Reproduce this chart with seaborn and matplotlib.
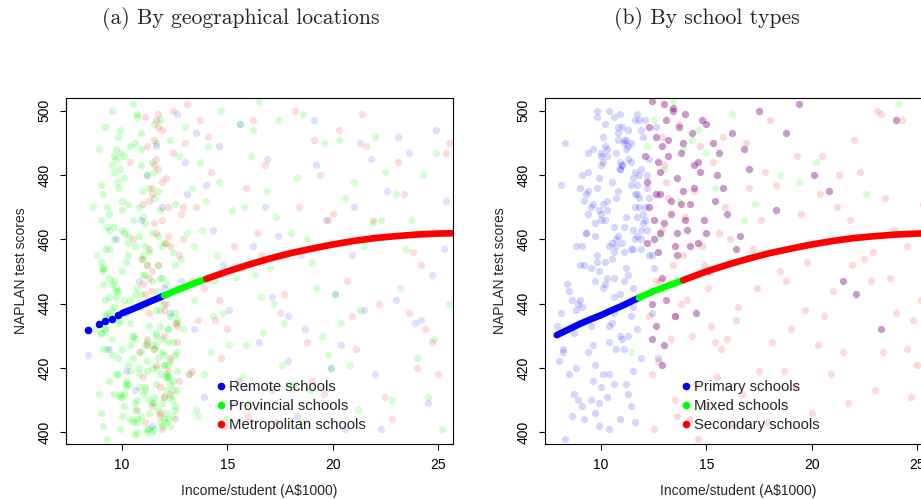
import matplotlib
matplotlib.use("Agg")
import matplotlib.pyplot as plt
import seaborn as sns
from matplotlib.lines import Line2D

# ---------------- data ----------------
TITLES = ["(a) By geographical locations", "(b) By school types"]
XLABEL = "Income/student (A$1000)"
YLABEL = "NAPLAN test scores"
XTICKS = [10, 15, 20, 25]
YTICKS = [400, 420, 440, 460, 480, 500]
LEGEND_A = ["Remote schools", "Provincial schools", "Metropolitan schools"]
LEGEND_B = ["Primary schools", "Mixed schools", "Secondary schools"]

# panel (a) scatter: provincial (green), dense cluster
a_green_x = [
    9.1, 10.3, 11.6, 9.8, 12.2, 10.7, 11.1, 9.4, 12.5, 10.0,
    11.4, 9.6, 10.9, 12.0, 9.2, 11.8, 10.4, 11.2, 9.9, 12.3,
    10.6, 11.5, 9.3, 10.1, 11.9, 12.4, 9.7, 10.8, 11.3, 9.0,
    12.1, 10.2, 11.7, 9.5, 10.5, 11.0, 12.6, 9.8, 11.4, 10.9,
    9.4, 11.2, 10.0, 12.2, 9.1, 10.6, 11.6, 9.9, 12.0, 10.3,
    11.1, 9.6, 10.7, 11.8, 12.4, 9.2, 10.4, 11.5, 9.7, 12.5,
    10.8, 11.3, 9.3, 12.1, 10.1, 11.9, 9.5, 10.5, 11.0, 12.3,
    9.0, 10.9, 11.7, 9.8, 12.6, 10.2, 11.4, 9.4, 10.6, 11.2,
    12.0, 9.6, 11.6, 10.0, 9.1, 10.7, 12.2, 11.1, 9.9, 10.3,
    11.8, 9.2, 10.4, 12.4, 11.5, 9.7, 10.8, 11.3, 12.5, 9.3,
    10.1, 11.9, 9.5, 10.5, 12.1, 11.0, 9.8, 10.9, 11.7, 12.3,
    9.4, 10.2, 11.2, 12.6, 9.0, 11.4, 10.6, 9.6, 12.0, 11.6,
    10.0, 11.1, 9.9, 10.7, 12.2, 9.1, 11.8, 10.3, 11.5, 9.7,
    12.4, 10.4, 9.2, 11.3, 10.8, 12.5, 9.3, 11.9, 10.1, 11.0,
    9.5, 12.1, 10.5, 9.8, 11.7, 10.9, 12.3, 9.4, 11.2, 10.2,
    11.4, 9.6, 12.6, 10.6, 9.0, 11.6, 10.0, 12.0, 9.9, 11.1,
    10.7, 11.8, 9.1, 10.3, 12.2, 11.5, 9.7, 10.4, 12.4, 9.2,
    11.3, 10.8, 12.5, 9.3, 11.9, 10.1, 9.5, 11.0, 12.1, 10.5,
    9.8, 11.7, 10.9, 12.3, 9.4, 10.2, 11.2, 9.6, 12.6, 11.4,
    10.6, 9.0, 11.6, 10.0, 12.0, 9.9, 11.1, 10.7, 9.1, 11.8,
    12.2, 10.3, 9.7, 11.5, 10.4, 12.4, 9.2, 11.3, 10.8, 12.5,
    9.3, 11.9, 10.1, 9.5, 11.0, 12.1, 10.5, 9.8, 11.7, 10.9,
    11.2, 12.3, 9.4, 10.2, 11.4, 9.6, 12.6, 10.6, 11.6, 9.0,
    10.0, 11.1, 12.0, 9.9, 10.7, 11.8, 9.1, 12.2, 10.3, 11.5,
]
a_green_y = [
    402, 455, 431, 478, 417, 499, 440, 463, 408, 426,
    447, 412, 488, 421, 436, 469, 404, 452, 494, 415,
    429, 473, 398, 441, 458, 410, 485, 420, 433, 466,
    406, 437, 461, 424, 502, 449, 413, 476, 400, 443,
    468, 419, 405, 432, 451, 490, 427, 411, 459, 438,
    414, 481, 445, 403, 428, 457, 434, 496, 418, 471,
    439, 401, 464, 417, 486, 409, 446, 430, 475, 422,
    453, 425, 407, 492, 435, 416, 462, 442, 399, 480,
    421, 460, 438, 411, 474, 403, 428, 449, 487, 415,
    497, 432, 419, 456, 401, 444, 470, 410, 437, 426,
    408, 448, 483, 423, 413, 467, 434, 405, 452, 491,
    436, 414, 400, 445, 477, 420, 458, 439, 404, 430,
    463, 427, 412, 498, 432, 450, 418, 471, 409, 442,
    416, 489, 441, 406, 461, 424, 435, 402, 479, 454,
    429, 403, 466, 418, 444, 493, 411, 457, 422, 437,
    484, 447, 425, 409, 431, 415, 472, 440, 401, 465,
    410, 433, 451, 421, 404, 481, 445, 427, 413, 495,
    456, 418, 407, 437, 425, 462, 500, 412, 446, 430,
    423, 475, 439, 402, 416, 453, 428, 486, 434, 409,
    443, 406, 420, 469, 411, 435, 458, 400, 426, 448,
    417, 461, 488, 426, 441, 405, 432, 476, 414, 452,
    470, 429, 412, 438, 455, 418, 403, 444, 423, 483,
    401, 436, 448, 415, 427, 464, 419, 407, 490, 431,
    450, 413, 424, 482, 404, 438, 446, 421, 459, 411,
]
# panel (a) scatter: provincial (green), sparse part
a_green2_x = [
    8.6, 8.8, 8.9, 8.7, 8.9, 13.0, 13.4, 13.8, 14.2, 14.6,
    15.0, 15.5, 16.1, 16.7, 17.3, 17.9, 18.6, 19.2, 19.9, 20.6,
    21.3, 22.0, 22.8, 23.5, 24.3, 25.2, 13.2, 13.7, 14.4, 15.2,
    15.9, 16.5, 17.2, 18.0, 18.9, 19.6, 20.4, 21.5, 23.0, 24.8,
    12.8, 13.5, 14.0, 14.8, 15.6, 16.3, 17.6, 18.3, 20.1, 21.9,
    12.9, 13.3, 13.6, 14.1, 14.5, 15.1, 15.8, 16.6, 17.4, 18.1,
    18.8, 19.5, 20.3, 21.2, 22.3, 23.2, 24.0, 24.9, 25.5, 13.1,
    13.9, 14.7, 15.4, 16.0, 16.9, 17.7, 19.0, 20.8, 22.5, 24.5,
    12.7, 13.4, 14.3, 15.7, 17.0, 18.5, 21.0, 23.7, 16.2, 19.8,
]
a_green2_y = [
    470, 455, 488, 432, 412, 495, 441, 463, 425, 478,
    404, 452, 486, 431, 467, 415, 499, 445, 420, 473,
    438, 492, 410, 457, 480, 401, 418, 484, 447, 469,
    427, 503, 440, 462, 413, 490, 434, 458, 474, 429,
    454, 407, 472, 437, 496, 449, 421, 479, 443, 465,
    432, 476, 405, 489, 455, 427, 470, 442, 497, 415,
    460, 430, 491, 407, 466, 445, 423, 487, 440, 462,
    418, 500, 448, 409, 475, 434, 453, 421, 481, 411,
    486, 458, 436, 417, 451, 403, 478, 466, 494, 424,
]
# panel (a) scatter: metropolitan (red)
a_red_x = [
    11.1, 11.4, 11.7, 12.0, 12.3, 11.2, 11.5, 11.8, 12.5, 11.3,
    11.6, 11.9, 12.2, 11.0, 12.6, 11.4, 11.7, 12.1, 11.2, 12.4,
    11.8, 11.3, 12.0, 11.5, 12.7, 11.1, 11.9, 12.3, 11.6, 11.4,
    12.2, 11.0, 11.7, 12.5, 11.3, 11.8, 12.1, 11.5, 12.8, 11.2,
    11.9, 12.4, 11.1, 11.6, 12.0, 11.4, 12.6, 11.7, 11.3, 12.2,
    11.5, 11.2, 12.3, 11.8, 11.0, 12.1, 11.6, 12.7, 11.4, 11.9,
    10.5, 10.8, 13.0, 13.3, 10.7, 12.9, 13.6, 10.4, 13.2, 10.9,
    13.5, 14.1, 14.7, 15.3, 16.0, 16.8, 17.5, 18.2, 19.0, 19.8,
    20.7, 21.6, 22.5, 23.4, 24.4, 25.4, 13.9, 14.9, 16.4, 18.8,
    20.3, 22.2, 24.0, 13.1, 15.7, 17.1, 19.4, 21.1, 23.8, 14.4,
    16.2, 17.7, 19.6, 21.9, 23.1, 24.7, 25.5, 18.4, 20.9, 22.8,
    14.2, 15.0, 15.9, 13.3, 12.9, 13.7, 14.6, 16.6, 19.1, 24.2,
    17.3, 20.0, 21.4, 23.6, 25.0,
]
a_red_y = [
    498, 476, 452, 430, 412, 489, 465, 441, 404, 457,
    421, 494, 470, 446, 433, 408, 482, 459, 427, 500,
    414, 472, 438, 491, 455, 403, 466, 423, 485, 444,
    461, 417, 499, 434, 448, 406, 479, 426, 468, 452,
    401, 487, 443, 462, 411, 474, 428, 495, 437, 419,
    483, 429, 458, 405, 471, 440, 497, 416, 450, 478,
    460, 425, 490, 447, 407, 470, 435, 484, 418, 454,
    470, 492, 423, 458, 405, 483, 437, 500, 416, 466,
    447, 489, 411, 474, 432, 487, 445, 402, 462, 428,
    494, 440, 420, 502, 451, 413, 480, 426, 456, 435,
    497, 443, 412, 466, 484, 428, 490, 470, 436, 404,
    481, 432, 476, 419, 460, 497, 441, 455, 491, 452,
    403, 468, 499, 437, 418,
]
# panel (a) scatter: remote (blue)
a_blue_x = [
    10.2, 10.9, 11.6, 12.3, 13.1, 13.9, 14.8, 15.6, 16.5, 17.4,
    18.3, 19.2, 20.1, 21.0, 22.0, 23.1, 24.2, 25.3, 9.4, 11.2,
    12.8, 14.3, 15.2, 16.9, 18.7, 20.6, 22.6, 24.7, 13.5, 17.9,
    8.4, 10.6, 19.7, 21.5, 15.9, 12.0, 23.6, 11.9, 14.0, 16.2,
    16.8, 17.9, 19.1, 20.4, 21.8, 23.0, 24.5, 25.4, 18.5, 22.3,
    13.4, 14.6, 15.5, 12.6, 10.8, 20.9, 23.9, 17.1, 19.9, 24.9,
    9.7, 11.4, 13.0, 15.1, 21.3,
]
a_blue_y = [
    419, 466, 489, 437, 474, 411, 452, 496, 428, 461,
    405, 483, 443, 470, 418, 492, 435, 457, 426, 480,
    447, 463, 409, 485, 432, 401, 475, 449, 493, 422,
    424, 413, 466, 438, 414, 445, 487, 470, 477, 458,
    470, 436, 497, 427, 485, 441, 409, 472, 455, 401,
    432, 489, 416, 499, 447, 455, 434, 442, 420, 494,
    460, 402, 484, 438, 490,
]

# panel (a) fitted curve
a_fit_blue_dots_x = [8.4, 8.9, 9.2, 9.5, 9.8]
a_fit_blue_dots_y = [431.9, 433.5, 434.5, 435.3, 436.3]
a_fit_blue_x = [10.0, 10.5, 11.0, 11.5, 12.0]
a_fit_blue_y = [437.0, 438.3, 439.7, 441.1, 442.5]
a_fit_green_x = [12.0, 12.5, 13.0, 13.5, 14.0]
a_fit_green_y = [442.5, 443.9, 445.2, 446.5, 447.7]
a_fit_red_x = [14.0, 15.0, 16.0, 17.0, 18.0, 19.0, 20.0, 21.0, 22.0, 23.0, 24.0, 25.0, 25.7]
a_fit_red_y = [447.7, 450.0, 452.1, 454.0, 455.7, 457.1, 458.4, 459.5, 460.4, 461.0, 461.5, 461.8, 461.9]

# panel (b) scatter: primary (blue)
b_blue_x = [
    9.6, 10.3, 11.0, 11.7, 9.9, 10.6, 11.3, 12.0, 10.1, 10.8,
    11.5, 9.4, 10.4, 11.1, 11.8, 9.7, 10.9, 12.2, 10.2, 11.4,
    8.2, 9.0, 10.0, 10.7, 11.2, 11.9, 9.5, 10.5, 11.6, 8.7,
    10.3, 11.0, 9.8, 11.7, 10.6, 12.1, 9.3, 11.3, 10.1, 8.5,
    11.8, 10.4, 9.6, 11.1, 10.8, 9.1, 11.5, 10.0, 12.3, 9.9,
    7.9, 8.8, 10.2, 11.4, 9.7, 10.9, 11.9, 10.5, 9.2, 11.2,
    10.7, 11.6, 9.4, 10.3, 12.0, 11.0, 8.4, 9.8, 11.3, 10.6,
    9.0, 10.1, 11.7, 10.8, 9.5, 11.5, 12.4, 10.4, 8.1, 11.1,
    11.4, 9.3, 10.6, 11.9, 10.0, 8.6, 11.2, 9.7, 10.9, 12.2,
    10.2, 11.8, 9.1, 10.5, 11.6, 9.9, 10.7, 11.3, 8.9, 12.6,
    9.6, 11.0, 10.3, 12.1, 8.3, 10.8, 11.5, 9.4, 10.1, 11.7,
    11.1, 8.7, 10.4, 9.8, 11.9, 10.6, 9.2, 12.3, 11.4, 10.0,
    10.9, 9.5, 11.2, 8.0, 10.2, 11.6, 9.0, 10.7, 12.0, 11.3,
    9.7, 11.8, 10.5, 8.5, 11.0, 9.3, 12.5, 10.3, 11.5, 9.9,
    10.8, 12.2, 9.6, 11.4, 8.8, 10.1, 11.7, 9.1, 10.6, 12.7,
    11.1, 10.4, 9.4, 11.9, 10.0, 8.2, 11.3, 10.9, 9.8, 11.6,
    8.3, 8.9, 9.4, 9.9, 10.4, 10.9, 11.4, 11.9, 12.4, 8.6,
    9.2, 9.7, 10.2, 10.7, 11.2, 11.7, 8.1, 8.8, 9.5, 10.0,
    10.6, 11.1, 11.6, 12.1, 9.1, 10.3, 10.9, 11.5, 9.8, 12.3,
]
b_blue_y = [
    488, 472, 495, 461, 479, 456, 485, 468, 492, 475,
    463, 481, 458, 490, 470, 447, 499, 476, 453, 484,
    425, 441, 466, 487, 451, 494, 433, 478, 460, 412,
    469, 483, 455, 474, 437, 497, 462, 489, 445, 418,
    480, 428, 471, 464, 493, 439, 457, 486, 473, 450,
    433, 420, 496, 477, 465, 443, 482, 459, 404, 491,
    458, 470, 487, 448, 465, 429, 446, 476, 494, 415,
    452, 484, 467, 461, 410, 479, 455, 500, 437, 426,
    490, 474, 442, 457, 468, 405, 488, 421, 482, 463,
    466, 497, 458, 434, 481, 409, 473, 449, 440, 495,
    427, 459, 486, 470, 398, 491, 445, 468, 418, 477,
    456, 431, 401, 498, 463, 448, 472, 485, 436, 414,
    482, 451, 467, 422, 489, 403, 476, 460, 492, 430,
    406, 473, 454, 444, 483, 462, 451, 488, 439, 469,
    495, 480, 416, 457, 438, 471, 499, 408, 464, 423,
    447, 433, 475, 460, 487, 426, 412, 484, 453, 497,
    490, 410, 425, 402, 418, 430, 408, 423, 437, 441,
    452, 461, 446, 426, 415, 432, 477, 458, 470, 483,
    498, 491, 474, 466, 480, 411, 404, 419, 500, 455,
]
# panel (b) scatter: dark purple points
b_purple_x = [
    12.2, 12.6, 13.0, 13.4, 13.8, 14.2, 14.6, 15.0, 15.5, 16.0,
    12.4, 12.8, 13.2, 13.6, 14.0, 14.4, 14.9, 15.3, 15.8, 16.4,
    12.3, 12.7, 13.1, 13.5, 13.9, 14.3, 14.7, 12.5, 12.9, 13.3,
    13.7, 14.1, 12.1, 16.8, 17.5, 18.3, 19.4, 20.8, 22.1, 24.0,
    12.6, 13.0, 12.9, 14.5, 15.1, 13.6, 12.4, 17.0, 21.5, 23.3,
    12.3, 12.8, 13.3, 13.9, 14.4, 15.0, 15.6, 12.5, 13.0, 13.6,
    14.2, 14.8, 12.2, 12.7, 13.2, 13.8, 14.6, 15.4, 16.2, 12.9,
    13.5, 12.4, 13.1, 14.0, 12.6, 18.8, 20.1, 16.6, 13.4, 12.8,
]
b_purple_y = [
    478, 492, 465, 501, 487, 471, 459, 496, 480, 468,
    503, 474, 486, 462, 499, 483, 466, 490, 476, 457,
    470, 484, 497, 458, 475, 493, 481, 460, 489, 472,
    495, 463, 486, 488, 500, 469, 502, 475, 443, 497,
    433, 427, 421, 437, 450, 455, 440, 482, 447, 432,
    495, 481, 468, 490, 476, 462, 487, 466, 502, 479,
    458, 497, 459, 456, 491, 471, 484, 472, 493, 448,
    436, 429, 441, 466, 474, 493, 480, 461, 500, 462,
]
# panel (b) scatter: secondary (red)
b_red_x = [
    12.3, 12.7, 13.1, 13.5, 13.9, 14.3, 14.7, 15.1, 15.5, 15.9,
    12.5, 12.9, 13.3, 13.7, 14.1, 14.5, 14.9, 15.3, 15.7, 16.1,
    16.5, 17.0, 17.5, 18.0, 18.5, 19.0, 19.5, 20.0, 20.5, 21.0,
    21.5, 22.0, 22.5, 23.0, 23.5, 24.0, 24.5, 25.0, 16.3, 17.8,
    18.8, 20.3, 21.8, 23.3, 24.8, 12.8, 13.6, 14.4, 15.2, 16.7,
    12.4, 13.0, 13.8, 14.6, 15.4, 17.2, 19.2, 21.3, 23.7, 25.3,
    15.6, 16.0, 16.9, 17.4, 17.9, 18.3, 18.7, 19.3, 19.8, 20.6,
    21.2, 21.7, 22.3, 22.8, 23.4, 23.9, 24.3, 24.7, 25.2, 25.5,
    14.0, 14.8, 13.4, 12.6, 13.2, 15.0, 16.4, 18.1, 20.9, 22.9,
    12.9, 13.5, 14.2, 15.8, 17.6, 19.7, 21.9, 24.5, 23.1, 20.4,
]
b_red_y = [
    436, 422, 478, 410, 455, 430, 489, 445, 417, 470,
    401, 463, 429, 496, 441, 415, 452, 484, 426, 460,
    439, 476, 419, 497, 450, 432, 468, 406, 486, 444,
    425, 491, 454, 413, 473, 437, 458, 421, 402, 481,
    447, 427, 466, 499, 435, 447, 405, 475, 433, 412,
    418, 483, 440, 398, 428, 457, 414, 480, 448, 471,
    462, 429, 490, 445, 403, 477, 419, 486, 453, 436,
    470, 409, 481, 447, 425, 463, 497, 411, 441, 485,
    467, 458, 452, 447, 473, 408, 435, 428, 418, 456,
    492, 436, 404, 492, 466, 438, 452, 426, 500, 474,
]
# panel (b) scatter: mixed (green)
b_green_x = [12.5, 13.0, 13.4, 13.9, 14.6, 15.4, 16.2, 17.3, 18.5, 20.2,
             12.8, 13.7, 14.3, 15.0, 16.8, 19.4, 22.6, 24.1, 11.4, 12.2]
b_green_y = [497, 482, 503, 488, 494, 476, 499, 471, 480, 484,
             461, 472, 491, 487, 466, 478, 474, 502, 425, 489]

# panel (b) fitted curve
b_fit_blue_x = [7.9, 8.5, 9.0, 9.5, 10.0, 10.5, 11.0, 11.5, 11.8]
b_fit_blue_y = [430.2, 432.1, 433.7, 435.1, 436.4, 437.9, 439.3, 440.9, 441.8]
b_fit_green_x = [11.8, 12.5, 13.0, 13.9]
b_fit_green_y = [441.8, 443.9, 445.1, 447.3]
b_fit_red_x = [13.9, 15.0, 16.0, 17.0, 18.0, 19.0, 20.0, 21.0, 22.0, 23.0, 24.0, 25.0, 25.7]
b_fit_red_y = [447.3, 450.0, 452.1, 454.0, 455.7, 457.1, 458.4, 459.5, 460.4, 461.0, 461.5, 461.8, 461.9]

# ---------------- styling ----------------
sns.set_theme(style="white")
plt.rcParams["font.family"] = ["Liberation Sans", "DejaVu Sans"]

BLUE, GREEN, RED, PURPLE = "#0000ff", "#00ff00", "#ff0000", "#800080"
S = 28
LW_FIT = 4.8

fig = plt.figure(figsize=(9.21, 4.99), dpi=100)
W, H = 921, 499
ax1 = fig.add_axes([66 / W, 55 / H, 387 / W, 346 / H])
ax2 = fig.add_axes([545 / W, 55 / H, 387 / W, 346 / H])


def scatter(ax, x, y, color, alpha):
    sns.scatterplot(x=x, y=y, color=color, alpha=alpha, s=S, linewidth=0,
                    ax=ax, zorder=2)


def fit(ax, x, y, color):
    sns.lineplot(x=x, y=y, color=color, linewidth=LW_FIT, ax=ax, sort=False,
                 estimator=None, zorder=4, solid_capstyle="round")


# panel (a)
scatter(ax1, a_green_x, a_green_y, GREEN, 0.2)
scatter(ax1, a_green2_x, a_green2_y, GREEN, 0.18)
scatter(ax1, a_red_x, a_red_y, RED, 0.14)
scatter(ax1, a_blue_x, a_blue_y, BLUE, 0.12)
sns.scatterplot(x=a_fit_blue_dots_x, y=a_fit_blue_dots_y, color=BLUE, s=30,
                linewidth=0, ax=ax1, zorder=4)
fit(ax1, a_fit_blue_x, a_fit_blue_y, BLUE)
fit(ax1, a_fit_green_x, a_fit_green_y, GREEN)
fit(ax1, a_fit_red_x, a_fit_red_y, RED)

# panel (b)
scatter(ax2, b_blue_x, b_blue_y, BLUE, 0.16)
scatter(ax2, b_red_x, b_red_y, RED, 0.15)
scatter(ax2, b_green_x, b_green_y, GREEN, 0.16)
scatter(ax2, b_purple_x, b_purple_y, PURPLE, 0.4)
fit(ax2, b_fit_blue_x, b_fit_blue_y, BLUE)
fit(ax2, b_fit_green_x, b_fit_green_y, GREEN)
fit(ax2, b_fit_red_x, b_fit_red_y, RED)

for ax, labels, lx in [(ax1, LEGEND_A, 0.391), (ax2, LEGEND_B, 0.355)]:
    ax.set_xlim(7.34, 25.71)
    ax.set_ylim(396.3, 504)
    ax.set_xticks(XTICKS)
    ax.set_yticks(YTICKS)
    ax.set_xticklabels([str(t) for t in XTICKS])
    ax.set_yticklabels([str(t) for t in YTICKS], rotation=90, va="center")
    for sp in ax.spines.values():
        sp.set_visible(True)
        sp.set_color("black")
        sp.set_linewidth(0.8)
    ax.tick_params(direction="out", length=4, width=0.8, labelsize=10,
                   colors="black", bottom=True, left=True)
    ax.tick_params(axis="x", pad=6)
    ax.tick_params(axis="y", pad=6.5)
    ax.set_xlabel(XLABEL, fontsize=10, labelpad=9)
    ax.set_ylabel(YLABEL, fontsize=10, labelpad=7)
    ax.grid(False)
    handles = [Line2D([], [], marker="o", linestyle="none", color=c,
                      markersize=4.5) for c in (BLUE, GREEN, RED)]
    ax.legend(handles, labels, loc="lower left", bbox_to_anchor=(lx, 0.035),
              frameon=False, fontsize=10.7, handlelength=0.5,
              handletextpad=0.3, labelspacing=0.32, borderpad=0,
              borderaxespad=0)

fig.text(241 / W, 1 - 18 / H, TITLES[0], ha="center", va="center",
         fontsize=15.6, family="cmr10")
fig.text(707 / W, 1 - 18 / H, TITLES[1], ha="center", va="center",
         fontsize=15.6, family="cmr10")

fig.savefig("out.png", dpi=100)
